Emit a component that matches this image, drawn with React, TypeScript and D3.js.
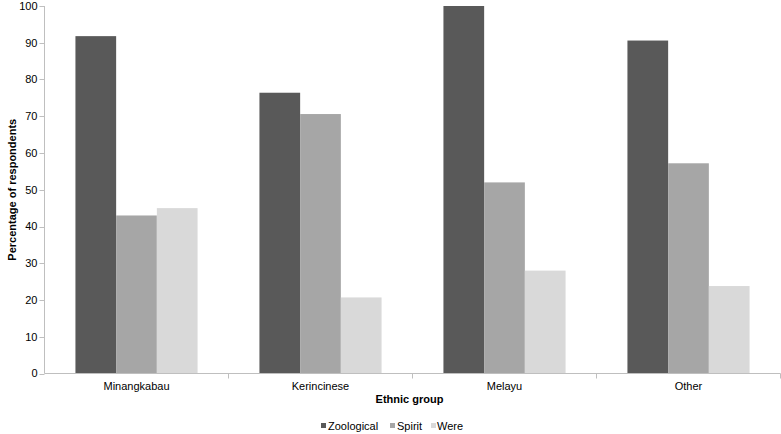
import React from "react";
import * as d3 from "d3";

const categories = ["Minangkabau", "Kerincinese", "Melayu", "Other"];
const seriesNames = ["Zoological", "Spirit", "Were"];
const zoological = [91.8, 76.4, 100, 90.6];
const spirit = [43.0, 70.6, 52.0, 57.2];
const were = [45.0, 20.7, 28.0, 23.8];
const yTicks = [0, 10, 20, 30, 40, 50, 60, 70, 80, 90, 100];
const colors = ["#595959", "#a6a6a6", "#d9d9d9"];

const W = 781, H = 434;
const left = 44.5, right = 780.5, top = 6, bottom = 373.5;
const FONT = "Liberation Sans, Arial, sans-serif";

export default function App() {
  const series = [zoological, spirit, were];
  const x = d3.scaleBand<string>().domain(categories).range([left, right]).paddingInner(0).paddingOuter(0);
  const xi = d3.scaleBand<string>().domain(seriesNames).range([0, x.bandwidth()]).paddingOuter(0.76).paddingInner(0);
  const y = d3.scaleLinear().domain([0, 100]).range([bottom, top]);

  return (
    <svg width={W} height={H} style={{ position: "absolute", left: 0, top: 0, background: "#fff" }} fontFamily={FONT}>
      {categories.map((c, ci) =>
        seriesNames.map((s, si) => {
          const v = series[si][ci];
          const bx = (x(c) as number) + (xi(s) as number);
          return <rect key={c + s} x={bx} y={y(v)} width={xi.bandwidth()} height={y(0) - y(v)} fill={colors[si]} />;
        })
      )}
      {/* y axis */}
      <line x1={left} x2={left} y1={y(100)} y2={bottom} stroke="#bfbfbf" />
      {yTicks.map((t) => (
        <g key={t}>
          <line x1={left - 5} x2={left} y1={Math.round(y(t)) + 0.5} y2={Math.round(y(t)) + 0.5} stroke="#bfbfbf" />
          <text x={left - 7} y={y(t)} dy="0.35em" textAnchor="end" fontSize={11} fill="#000">{t}</text>
        </g>
      ))}
      {/* x axis */}
      <line x1={left} x2={right} y1={bottom} y2={bottom} stroke="#bfbfbf" />
      {categories.map((c, i) => (
        <g key={c}>
          <line x1={(x(c) as number) + x.bandwidth()} x2={(x(c) as number) + x.bandwidth()} y1={bottom} y2={bottom + 5} stroke="#bfbfbf" />
          <text x={(x(c) as number) + x.bandwidth() / 2} y={bottom + 16} textAnchor="middle" fontSize={11} fill="#000">{c}</text>
        </g>
      ))}
      <text x={(left + right) / 2 - 3} y={403} textAnchor="middle" fontSize={11} fontWeight="bold">Ethnic group</text>
      <text transform={`translate(12,${(top + bottom) / 2}) rotate(-90)`} textAnchor="middle" fontSize={11} fontWeight="bold" dy="0.35em">Percentage of respondents</text>
      {/* legend */}
      {[
        { name: seriesNames[0], sx: 321, tx: 328 },
        { name: seriesNames[1], sx: 390, tx: 397 },
        { name: seriesNames[2], sx: 431, tx: 437 },
      ].map((l, i) => (
        <g key={l.name}>
          <rect x={l.sx} y={423} width={5} height={5} fill={colors[i]} />
          <text x={l.tx} y={430} fontSize={11} fill="#000">{l.name}</text>
        </g>
      ))}
    </svg>
  );
}
